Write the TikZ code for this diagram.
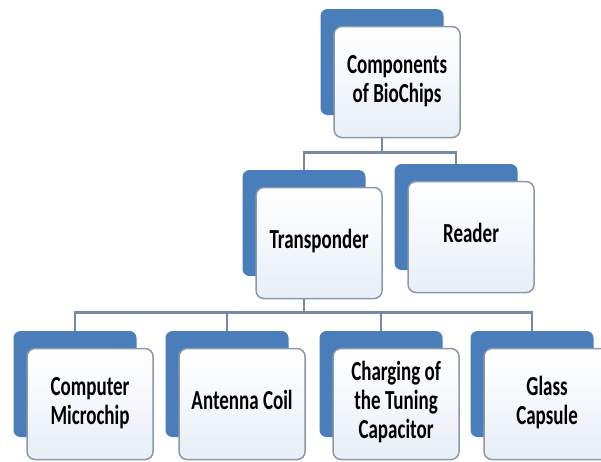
\documentclass[tikz,border=0pt]{standalone}
\usepackage{fontspec}
\setmainfont{Carlito}
\usetikzlibrary{positioning, backgrounds}

\definecolor{chipblue}{RGB}{74,126,187}
\definecolor{edgegray}{RGB}{140,152,170}
\definecolor{linkgray}{RGB}{118,138,165}
\definecolor{paleblue}{RGB}{232,238,247}

% text is drawn taller than it is wide, as in the reference
\newcommand{\boxtext}[1]{\scalebox{1}[1.45]{\begin{tabular}{@{}c@{}}#1\end{tabular}}}

\tikzset{
  backbox/.style={fill=chipblue, rounded corners=7pt, minimum width=123pt, minimum height=106pt, inner sep=0pt},
  frontbox/.style={draw=edgegray, line width=1.5pt, rounded corners=8pt, top color=white, bottom color=paleblue,
    minimum width=126pt, minimum height=111pt, inner sep=0pt, align=center,
    font=\fontsize{19}{20}\selectfont\bfseries},
  link/.style={draw=linkgray, line width=2.6pt}
}

\begin{document}
\begin{tikzpicture}[x=1pt, y=-1pt]
    \useasboundingbox (0,0) rectangle (601,461);

    % Draw top box
    \node[backbox] (topback) at (382,62) {};
    \node[frontbox, below right=17pt and 13pt of topback.north west] (top) {\boxtext{Components\\of BioChips}};

    % Draw second row
    \node[backbox] (transback) at (304,223) {};
    \node[frontbox, below right=17pt and 13pt of transback.north west] (trans) {\boxtext{Transponder}};
    \node[backbox] (readback) at (456,217) {};
    \node[frontbox, below right=17pt and 13pt of readback.north west] (reader) {\boxtext{Reader}};

    % Draw bottom row
    \foreach \n/\x/\p in {cpu/75/{Computer\\Microchip}, coil/227/{Antenna Coil}, cap/381/{Charging of\\the Tuning\\Capacitor}, glass/532/{Glass\\Capsule}} {
      \node[backbox] (\n back) at (\x,384) {};
      \node[frontbox, below right=17pt and 13pt of \n back.north west] (\n) {\boxtext{\p}};
    }

    % Connectors behind the boxes
    \begin{pgfonlayer}{background}
      \draw[link] (topback.south) -- ++(0,37) coordinate (topbus) -| (transback.north);
      \draw[link] (topbus) -| (readback.north);
      \draw[link] (transback.south) -- ++(0,36) coordinate (lowbus);
      \foreach \n in {cpu, coil, cap, glass} {
        \draw[link] (lowbus) -| (\n back.north);
      }
    \end{pgfonlayer}
\end{tikzpicture}
\end{document}
